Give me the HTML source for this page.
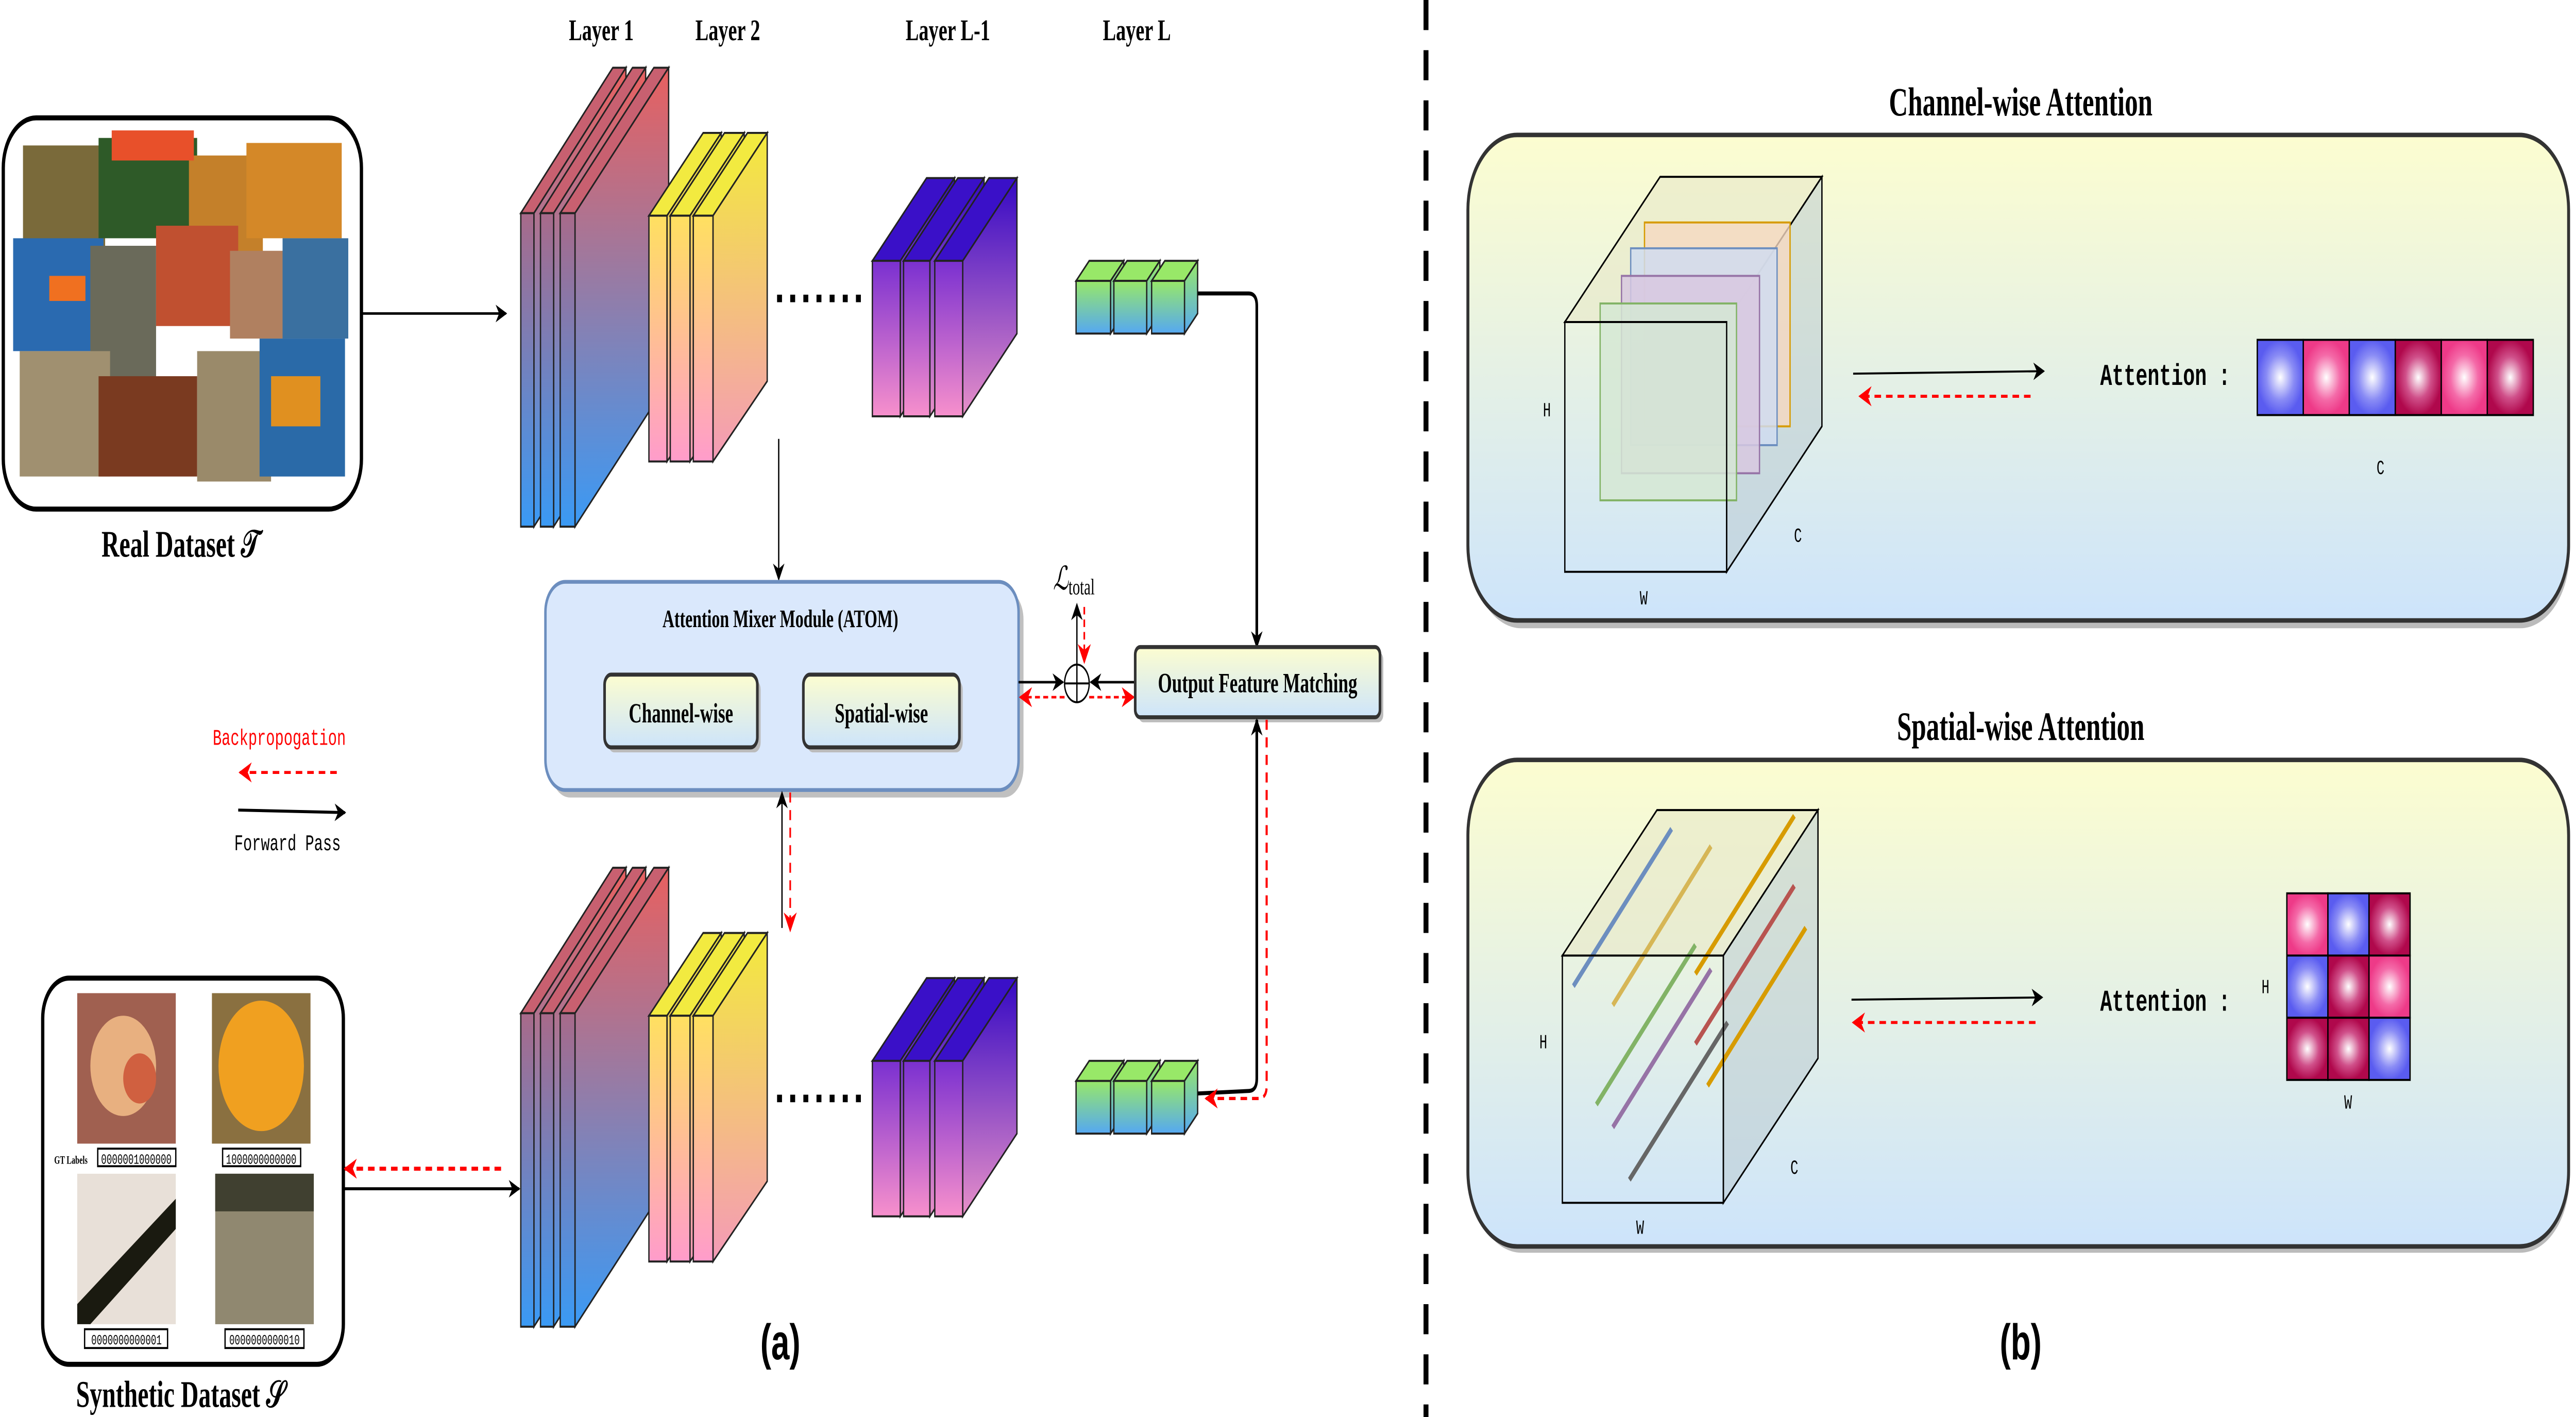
<!DOCTYPE html>
<html><head><meta charset="utf-8"><style>
html,body{margin:0;padding:0;background:#fff;overflow:hidden;width:100vw;height:100vh;}
svg{display:block;width:100vw;height:100vh;}
text{font-family:"Liberation Serif",serif;}
.mono{font-family:"Liberation Mono",monospace;}
</style></head><body>
<svg viewBox="0 0 1568 565" preserveAspectRatio="none" xmlns="http://www.w3.org/2000/svg">
<defs>
<marker id="ab" viewBox="0 0 10 10" refX="9" refY="5" markerWidth="7" markerHeight="7" markerUnits="userSpaceOnUse" orient="auto"><path d="M0,0 L10,5 L0,10 L3,5z" fill="#000"/></marker>
<marker id="ar" viewBox="0 0 10 10" refX="9" refY="5" markerWidth="8" markerHeight="8" markerUnits="userSpaceOnUse" orient="auto"><path d="M0,0 L10,5 L0,10 L3,5z" fill="#f00"/></marker>
<linearGradient id="g1" x1="0" y1="0" x2="0" y2="1"><stop offset="0" stop-color="#e8605f"/><stop offset="1" stop-color="#3a9af5"/></linearGradient>
<linearGradient id="g1f" x1="0" y1="0" x2="0" y2="1"><stop offset="0" stop-color="#a86a8a"/><stop offset="1" stop-color="#3a9af5"/></linearGradient>
<linearGradient id="g2" x1="0" y1="0" x2="0" y2="1"><stop offset="0" stop-color="#f3ea3c"/><stop offset="1" stop-color="#f49ab8"/></linearGradient>
<linearGradient id="g2f" x1="0" y1="0" x2="0" y2="1"><stop offset="0" stop-color="#ffe060"/><stop offset="1" stop-color="#ff9ccb"/></linearGradient>
<linearGradient id="g3" x1="0" y1="0" x2="0" y2="1"><stop offset="0" stop-color="#3408c4"/><stop offset="1" stop-color="#e890c8"/></linearGradient>
<linearGradient id="g3f" x1="0" y1="0" x2="0" y2="1"><stop offset="0" stop-color="#7a30d0"/><stop offset="1" stop-color="#f790cc"/></linearGradient>
<linearGradient id="g4" x1="0" y1="0" x2="0" y2="1"><stop offset="0" stop-color="#98e868"/><stop offset="1" stop-color="#55a8f2"/></linearGradient>
<linearGradient id="gb" x1="0" y1="0" x2="0" y2="1"><stop offset="0" stop-color="#fcfdd0"/><stop offset="1" stop-color="#cde4fb"/></linearGradient>
<radialGradient id="cb"><stop offset="0" stop-color="#fff"/><stop offset="0.6" stop-color="#8a8cf5"/><stop offset="1" stop-color="#5a5cf0"/></radialGradient>
<radialGradient id="cp"><stop offset="0" stop-color="#fff"/><stop offset="0.6" stop-color="#f46aa8"/><stop offset="1" stop-color="#ee3a88"/></radialGradient>
<radialGradient id="cc"><stop offset="0" stop-color="#fff"/><stop offset="0.55" stop-color="#d0508a"/><stop offset="1" stop-color="#b0084c"/></radialGradient>
</defs>

<!-- Real dataset -->
<rect x="2" y="47" width="218" height="156" rx="20" fill="#fff" stroke="#000" stroke-width="2"/>
<g>
<rect x="14" y="58" width="50" height="40" fill="#7a6a3a"/>
<rect x="60" y="55" width="60" height="40" fill="#2e5a28"/>
<rect x="115" y="62" width="45" height="48" fill="#c4802a"/>
<rect x="150" y="57" width="58" height="38" fill="#d48828"/>
<rect x="68" y="52" width="50" height="12" fill="#e8502a"/>
<rect x="8" y="95" width="55" height="45" fill="#2a6ab0"/>
<rect x="55" y="98" width="40" height="55" fill="#6a6a5a"/>
<rect x="95" y="90" width="50" height="40" fill="#c05030"/>
<rect x="140" y="100" width="35" height="35" fill="#b08060"/>
<rect x="172" y="95" width="40" height="40" fill="#3a70a0"/>
<rect x="12" y="140" width="55" height="50" fill="#a09070"/>
<rect x="60" y="150" width="60" height="40" fill="#7a3a20"/>
<rect x="120" y="140" width="45" height="52" fill="#9a8a6a"/>
<rect x="158" y="135" width="52" height="55" fill="#2a6aa8"/>
<rect x="165" y="150" width="30" height="20" fill="#e09020"/>
<rect x="30" y="110" width="22" height="10" fill="#f07020"/>
</g>
<text x="110" y="222" font-size="15" font-weight="bold" text-anchor="middle">Real Dataset 𝒯</text>
<line x1="220" y1="125" x2="308" y2="125" stroke="#000" stroke-width="1" marker-end="url(#ab)"/>

<g font-size="12" font-weight="bold" text-anchor="middle">
<text x="366" y="16">Layer 1</text><text x="443" y="16">Layer 2</text>
<text x="577" y="16">Layer L-1</text><text x="692" y="16">Layer L</text>
</g>

<g id="net">
<g stroke="#222" stroke-width="0.8">
<polygon points="317,85 325,85 381,27 373,27" fill="#c86070"/><polygon points="325,85 381,27 381,152 325,210" fill="url(#g1)"/><rect x="317" y="85" width="8" height="125" fill="url(#g1f)"/>
<polygon points="329,85 337,85 393,27 385,27" fill="#c86070"/><polygon points="337,85 393,27 393,152 337,210" fill="url(#g1)"/><rect x="329" y="85" width="8" height="125" fill="url(#g1f)"/>
<polygon points="341,85 350,85 407,27 398,27" fill="#c86070"/><polygon points="350,85 407,27 407,152 350,210" fill="url(#g1)"/><rect x="341" y="85" width="9" height="125" fill="url(#g1f)"/>
<polygon points="395,86 406,86 439,53 428,53" fill="#f2ea40"/><polygon points="406,86 439,53 439,152 406,184" fill="url(#g2)"/><rect x="395" y="86" width="11" height="98" fill="url(#g2f)"/>
<polygon points="408,86 420,86 453,53 441,53" fill="#f2ea40"/><polygon points="420,86 453,53 453,152 420,184" fill="url(#g2)"/><rect x="408" y="86" width="12" height="98" fill="url(#g2f)"/>
<polygon points="422,86 434,86 467,53 455,53" fill="#f2ea40"/><polygon points="434,86 467,53 467,152 434,184" fill="url(#g2)"/><rect x="422" y="86" width="12" height="98" fill="url(#g2f)"/>
<polygon points="531,104 548,104 581,71 564,71" fill="#3a10c8"/><polygon points="548,104 581,71 581,133 548,166" fill="url(#g3)"/><rect x="531" y="104" width="17" height="62" fill="url(#g3f)"/>
<polygon points="550,104 566,104 599,71 583,71" fill="#3a10c8"/><polygon points="566,104 599,71 599,133 566,166" fill="url(#g3)"/><rect x="550" y="104" width="16" height="62" fill="url(#g3f)"/>
<polygon points="569,104 586,104 619,71 602,71" fill="#3a10c8"/><polygon points="586,104 619,71 619,133 586,166" fill="url(#g3)"/><rect x="569" y="104" width="17" height="62" fill="url(#g3f)"/>
<polygon points="655,112 676,112 684,104 663,104" fill="#98e868"/><polygon points="676,112 684,104 684,125 676,133" fill="url(#g4)"/><rect x="655" y="112" width="21" height="21" fill="url(#g4)"/>
<polygon points="678,112 698,112 706,104 686,104" fill="#98e868"/><polygon points="698,112 706,104 706,125 698,133" fill="url(#g4)"/><rect x="678" y="112" width="20" height="21" fill="url(#g4)"/>
<polygon points="701,112 721,112 729,104 709,104" fill="#98e868"/><polygon points="721,112 729,104 729,125 721,133" fill="url(#g4)"/><rect x="701" y="112" width="20" height="21" fill="url(#g4)"/>
</g>
<line x1="473" y1="119" x2="526" y2="119" stroke="#000" stroke-width="3" stroke-dasharray="3,5"/>
</g>
<use href="#net" transform="translate(0,319)"/>

<path d="M729,117 L760,117 Q765,117 765,122 L765,258" fill="none" stroke="#000" stroke-width="1.6" marker-end="url(#ab)"/>
<line x1="474" y1="175" x2="474" y2="231" stroke="#000" stroke-width="0.8" marker-end="url(#ab)"/>

<rect x="335" y="235" width="288" height="83" rx="12" fill="#c0c0c0"/>
<rect x="332" y="232" width="288" height="83" rx="12" fill="#dae8fc" stroke="#6c8ebf" stroke-width="1.5"/>
<text x="475" y="250" font-size="10" font-weight="bold" text-anchor="middle">Attention Mixer Module (ATOM)</text>
<rect x="370" y="271" width="93" height="29" rx="4" fill="#bbb"/>
<rect x="368" y="269" width="93" height="29" rx="4" fill="url(#gb)" stroke="#333" stroke-width="1.6"/>
<text x="414.5" y="288" font-size="11" font-weight="bold" text-anchor="middle">Channel-wise</text>
<rect x="491" y="271" width="95" height="29" rx="4" fill="#bbb"/>
<rect x="489" y="269" width="95" height="29" rx="4" fill="url(#gb)" stroke="#333" stroke-width="1.6"/>
<text x="536.5" y="288" font-size="11" font-weight="bold" text-anchor="middle">Spatial-wise</text>

<circle cx="655.5" cy="272.5" r="7.5" fill="#fff" stroke="#000" stroke-width="0.8"/>
<line x1="648" y1="272.5" x2="663" y2="272.5" stroke="#000" stroke-width="0.8"/>
<line x1="655.5" y1="265" x2="655.5" y2="280" stroke="#000" stroke-width="0.8"/>
<line x1="620" y1="272" x2="647" y2="272" stroke="#000" stroke-width="1" marker-end="url(#ab)"/>
<line x1="691" y1="272" x2="664" y2="272" stroke="#000" stroke-width="1" marker-end="url(#ab)"/>
<line x1="648" y1="278" x2="621" y2="278" stroke="#f00" stroke-width="1" stroke-dasharray="3,2" marker-end="url(#ar)"/>
<line x1="663" y1="278" x2="690" y2="278" stroke="#f00" stroke-width="1" stroke-dasharray="3,2" marker-end="url(#ar)"/>
<line x1="655.5" y1="265" x2="655.5" y2="241" stroke="#000" stroke-width="0.8" marker-end="url(#ab)"/>
<line x1="660" y1="242" x2="660" y2="264" stroke="#f00" stroke-width="1" stroke-dasharray="3,2" marker-end="url(#ar)"/>
<text x="641" y="235" font-size="13" font-style="italic">ℒ<tspan font-size="9" font-style="normal" dy="2">total</tspan></text>

<rect x="693" y="260" width="149" height="28" rx="3" fill="#bbb"/>
<rect x="691" y="258" width="149" height="28" rx="3" fill="url(#gb)" stroke="#333" stroke-width="1.6"/>
<text x="765.5" y="276" font-size="11" font-weight="bold" text-anchor="middle">Output Feature Matching</text>

<path d="M729,436 L760,435 Q765,435 765,430 L765,287" fill="none" stroke="#000" stroke-width="1.6" marker-end="url(#ab)"/>
<path d="M771,287 L771,433 Q771,438 766,438 L734,438" fill="none" stroke="#f00" stroke-width="1.3" stroke-dasharray="4,3" marker-end="url(#ar)"/>
<line x1="476" y1="370" x2="476" y2="316" stroke="#000" stroke-width="0.8" marker-end="url(#ab)"/>
<line x1="481" y1="316" x2="481" y2="371" stroke="#f00" stroke-width="1" stroke-dasharray="4,3" marker-end="url(#ar)"/>

<rect x="26" y="390" width="183" height="154" rx="16" fill="#fff" stroke="#000" stroke-width="2"/>
<rect x="47" y="396" width="60" height="60" fill="#a06050"/><circle cx="75" cy="425" r="20" fill="#e8b080"/><circle cx="85" cy="430" r="10" fill="#d06040"/>
<rect x="129" y="396" width="60" height="60" fill="#8a7040"/><circle cx="159" cy="425" r="26" fill="#f0a020"/>
<rect x="47" y="468" width="60" height="60" fill="#e8e0d8"/><path d="M47,520 L107,478 L107,490 L55,528 L47,528z" fill="#1a1a10"/>
<rect x="131" y="468" width="60" height="60" fill="#908870"/><rect x="131" y="468" width="60" height="15" fill="#404030"/>
<g fill="#fff" stroke="#000" stroke-width="0.8">
<rect x="59.5" y="458" width="47.5" height="7"/><rect x="135.5" y="458" width="47.5" height="7"/>
<rect x="51.5" y="530" width="50.5" height="7.5"/><rect x="137" y="530" width="48" height="7.5"/>
</g>
<g font-size="5.5" text-anchor="middle">
<text x="83" y="464" class="mono">0000001000000</text><text x="159" y="464" class="mono">1000000000000</text>
<text x="77" y="536" class="mono">0000000000001</text><text x="161" y="536" class="mono">0000000000010</text>
</g>
<text x="33" y="464" font-size="4.5" font-weight="bold">GT Labels</text>
<text x="110" y="561" font-size="15" font-weight="bold" text-anchor="middle">Synthetic Dataset 𝒮</text>
<line x1="305" y1="466" x2="210" y2="466" stroke="#f00" stroke-width="1.6" stroke-dasharray="4,3" marker-end="url(#ar)"/>
<line x1="209" y1="474" x2="316" y2="474" stroke="#000" stroke-width="1.2" marker-end="url(#ab)"/>

<text x="170" y="297" font-size="9" fill="#f00" text-anchor="middle" class="mono">Backpropogation</text>
<line x1="205" y1="308" x2="146" y2="308" stroke="#f00" stroke-width="1.2" stroke-dasharray="4,3" marker-end="url(#ar)"/>
<line x1="145" y1="323" x2="210" y2="324" stroke="#000" stroke-width="1.2" marker-end="url(#ab)"/>
<text x="175" y="339" font-size="9" text-anchor="middle" class="mono">Forward Pass</text>

<text x="475" y="542" font-size="20" font-weight="bold" text-anchor="middle" style="font-family:'Liberation Sans',sans-serif">(a)</text>
<text x="1230" y="542" font-size="20" font-weight="bold" text-anchor="middle" style="font-family:'Liberation Sans',sans-serif">(b)</text>

<line x1="868" y1="0" x2="868" y2="565" stroke="#000" stroke-width="3" stroke-dasharray="12,8"/>

<text x="1230" y="46" font-size="16" font-weight="bold" text-anchor="middle">Channel-wise Attention</text>
<rect x="896" y="56.5" width="668" height="194" rx="30" fill="#bbb"/>
<rect x="893.5" y="53.8" width="670" height="193.6" rx="30" fill="url(#gb)" stroke="#333" stroke-width="1.8"/>
<g stroke="#000" stroke-width="0.8">
<polygon points="952.5,128.4 1051,128.4 1109,70.5 1010.5,70.5" fill="#e8e8c8" fill-opacity="0.6"/>
<polygon points="1051,128.4 1109,70.5 1109,170 1051,228" fill="#b8c8d0" fill-opacity="0.5"/>
</g>
<rect x="1001" y="88.7" width="88.6" height="81.3" fill="#f5d8c0" fill-opacity="0.8" stroke="#d79b00" stroke-width="0.8"/>
<rect x="992.6" y="99" width="89.1" height="78.5" fill="#d0dcf0" fill-opacity="0.85" stroke="#6c8ebf" stroke-width="0.8"/>
<rect x="987" y="110" width="84" height="78.7" fill="#d8c8e0" fill-opacity="0.85" stroke="#9673a6" stroke-width="0.8"/>
<rect x="974" y="121" width="83" height="78.5" fill="#d5e8d4" fill-opacity="0.85" stroke="#82b366" stroke-width="0.8"/>
<rect x="952.5" y="128.4" width="98.5" height="99.6" fill="none" stroke="#000" stroke-width="0.8"/>
<g font-size="8" text-anchor="middle">
<text x="941.6" y="166" class="mono">H</text><text x="1000.5" y="241" class="mono">W</text><text x="1094.4" y="216" class="mono">C</text>
<text x="1449" y="189" class="mono">C</text>
</g>
<line x1="1128" y1="149" x2="1244" y2="148" stroke="#000" stroke-width="0.8" marker-end="url(#ab)"/>
<line x1="1236" y1="158" x2="1132" y2="158" stroke="#f00" stroke-width="1.2" stroke-dasharray="4,3" marker-end="url(#ar)"/>
<text x="1318" y="153.5" font-size="12" font-weight="bold" text-anchor="middle" class="mono">Attention :</text>
<g stroke="#000" stroke-width="0.8">
<rect x="1374" y="135.5" width="28" height="30" fill="url(#cb)"/>
<rect x="1402" y="135.5" width="28" height="30" fill="url(#cp)"/>
<rect x="1430" y="135.5" width="28" height="30" fill="url(#cb)"/>
<rect x="1458" y="135.5" width="28" height="30" fill="url(#cc)"/>
<rect x="1486" y="135.5" width="28" height="30" fill="url(#cp)"/>
<rect x="1514" y="135.5" width="28" height="30" fill="url(#cc)"/>
</g>

<text x="1230" y="295" font-size="16" font-weight="bold" text-anchor="middle">Spatial-wise Attention</text>
<rect x="896" y="305.5" width="668" height="194" rx="30" fill="#bbb"/>
<rect x="893.5" y="303" width="670" height="194" rx="30" fill="url(#gb)" stroke="#333" stroke-width="1.8"/>
<g stroke="#000" stroke-width="0.8">
<polygon points="951,381 1049,381 1106.6,323 1008.6,323" fill="#e8e8c8" fill-opacity="0.6"/>
<polygon points="1049,381 1106.6,323 1106.6,422 1049,479.6" fill="#b8c8d0" fill-opacity="0.5"/>
</g>
<g stroke-width="2.2">
<line x1="957.7" y1="393.2" x2="1017.5" y2="330.5" stroke="#6c8ebf"/>
<line x1="981.7" y1="400.8" x2="1041.5" y2="337.4" stroke="#d6b656"/>
<line x1="1032" y1="388.3" x2="1092.2" y2="325.3" stroke="#d79b00"/>
<line x1="1032" y1="416.2" x2="1092.2" y2="353.2" stroke="#b85450"/>
<line x1="971.7" y1="440.4" x2="1032" y2="376.8" stroke="#82b366"/>
<line x1="981.7" y1="449.5" x2="1041.5" y2="386.5" stroke="#9673a6"/>
<line x1="1039.4" y1="432.9" x2="1099.2" y2="369.9" stroke="#d79b00"/>
<line x1="991.8" y1="470.4" x2="1051.6" y2="407.7" stroke="#666"/>
</g>
<rect x="951" y="381" width="98" height="98.6" fill="none" stroke="#000" stroke-width="0.8"/>
<g font-size="8" text-anchor="middle">
<text x="939.4" y="418" class="mono">H</text><text x="998.3" y="492" class="mono">W</text><text x="1092.2" y="468" class="mono">C</text>
<text x="1379" y="396" class="mono">H</text><text x="1429.3" y="442" class="mono">W</text>
</g>
<line x1="1127" y1="398.6" x2="1243" y2="397.7" stroke="#000" stroke-width="0.8" marker-end="url(#ab)"/>
<line x1="1239" y1="407.7" x2="1128" y2="407.7" stroke="#f00" stroke-width="1.2" stroke-dasharray="4,3" marker-end="url(#ar)"/>
<text x="1318" y="403" font-size="12" font-weight="bold" text-anchor="middle" class="mono">Attention :</text>
<g stroke="#000" stroke-width="0.8">
<rect x="1392" y="356.2" width="25" height="24.8" fill="url(#cp)"/>
<rect x="1417" y="356.2" width="25" height="24.8" fill="url(#cb)"/>
<rect x="1442" y="356.2" width="25" height="24.8" fill="url(#cc)"/>
<rect x="1392" y="381" width="25" height="24.8" fill="url(#cb)"/>
<rect x="1417" y="381" width="25" height="24.8" fill="url(#cc)"/>
<rect x="1442" y="381" width="25" height="24.8" fill="url(#cp)"/>
<rect x="1392" y="405.8" width="25" height="24.8" fill="url(#cc)"/>
<rect x="1417" y="405.8" width="25" height="24.8" fill="url(#cc)"/>
<rect x="1442" y="405.8" width="25" height="24.8" fill="url(#cb)"/>
</g>
</svg>
</body></html>
